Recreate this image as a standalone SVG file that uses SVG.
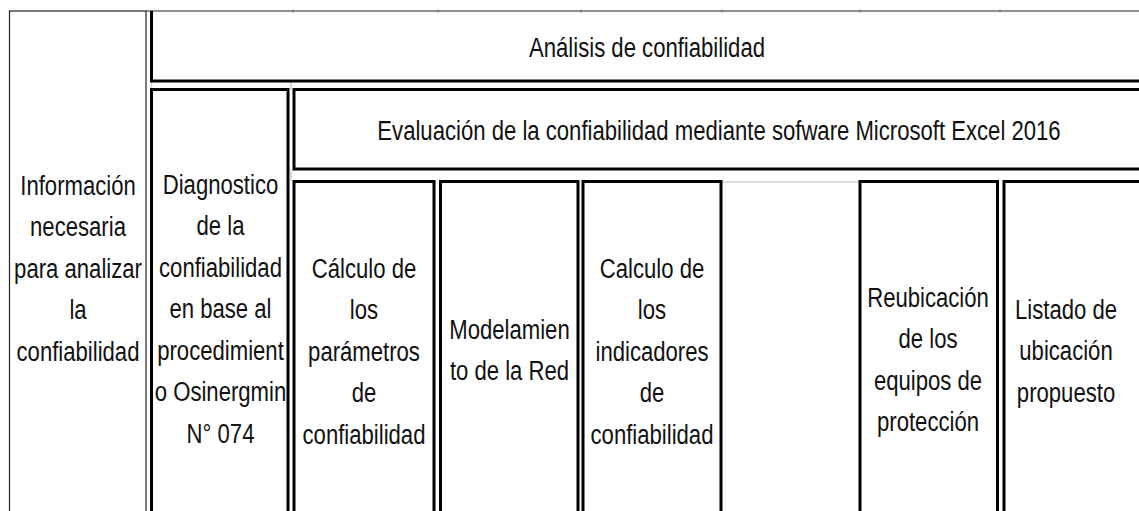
<svg xmlns="http://www.w3.org/2000/svg" width="1139" height="511" viewBox="0 0 1139 511">
<style>
.bg{fill:#fff}
.thin{fill:none;stroke:#222;stroke-width:1.2}
.thick{fill:none;stroke:#000;stroke-width:3}
.grid{fill:none;stroke:#cfcfcf;stroke-width:1.5}
.t{font-family:"Liberation Sans",Arial,sans-serif;font-size:28px;fill:#111;text-anchor:middle}
</style>
<rect class="bg" x="0" y="0" width="1139" height="511"/>
<g id="gridlines">
<path class="grid" d="M721,182 H860"/>
<path class="grid" d="M151.5,82 V89 M291,82 V90 M291,170 V181"/>
<path class="grid" d="M293,9 V13 M438,9 V13 M581,9 V13 M722,9 V13 M860,9 V13 M1000,9 V13"/>
</g>
<g id="connectors"></g>
<g id="informacion">
<rect class="thin" x="9.5" y="11" width="136.5" height="530"/>
<g transform="translate(78 0) scale(0.79 1)">
<text class="t" x="0" y="195">Información</text>
<text class="t" x="0" y="236.5">necesaria</text>
<text class="t" x="0" y="278">para analizar</text>
<text class="t" x="0" y="319.5">la</text>
<text class="t" x="0" y="361">confiabilidad</text>
</g>
</g>
<g id="analisis">
<path class="thin" d="M146,11 H1139"/>
<path class="thick" d="M151.5,11 V81 H1145"/>
<g transform="translate(647 0) scale(0.79 1)">
<text class="t" x="0" y="57">Análisis de confiabilidad</text>
</g>
</g>
<g id="diagnostico">
<rect class="thick" x="151.5" y="89.5" width="136.5" height="450"/>
<g transform="translate(220.5 0) scale(0.79 1)">
<text class="t" x="0" y="194">Diagnostico</text>
<text class="t" x="0" y="235.5">de la</text>
<text class="t" x="0" y="277">confiabilidad</text>
<text class="t" x="0" y="318.5">en base al</text>
<text class="t" x="0" y="360">procedimient</text>
<text class="t" x="0" y="401.5">o Osinergmin</text>
<text class="t" x="0" y="443">N° 074</text>
</g>
</g>
<g id="evaluacion">
<rect class="thick" x="294" y="89.5" width="900" height="79.5"/>
<g transform="translate(719 0) scale(0.79 1)">
<text class="t" x="0" y="140">Evaluación de la confiabilidad mediante sofware Microsoft Excel 2016</text>
</g>
</g>
<g id="calculo-parametros">
<rect class="thick" x="294" y="181.5" width="140" height="400"/>
<g transform="translate(364 0) scale(0.79 1)">
<text class="t" x="0" y="278">Cálculo de</text>
<text class="t" x="0" y="319.5">los</text>
<text class="t" x="0" y="361">parámetros</text>
<text class="t" x="0" y="402.5">de</text>
<text class="t" x="0" y="444">confiabilidad</text>
</g>
</g>
<g id="modelamiento">
<rect class="thick" x="440.5" y="181.5" width="137.5" height="400"/>
<g transform="translate(509.5 0) scale(0.79 1)">
<text class="t" x="0" y="339">Modelamien</text>
<text class="t" x="0" y="380.5">to de la Red</text>
</g>
</g>
<g id="calculo-indicadores">
<rect class="thick" x="583" y="181.5" width="138" height="400"/>
<g transform="translate(652 0) scale(0.79 1)">
<text class="t" x="0" y="278">Calculo de</text>
<text class="t" x="0" y="319.5">los</text>
<text class="t" x="0" y="361">indicadores</text>
<text class="t" x="0" y="402.5">de</text>
<text class="t" x="0" y="444">confiabilidad</text>
</g>
</g>
<g id="reubicacion">
<rect class="thick" x="860" y="181.5" width="137.5" height="400"/>
<g transform="translate(928 0) scale(0.79 1)">
<text class="t" x="0" y="307">Reubicación</text>
<text class="t" x="0" y="348.5">de los</text>
<text class="t" x="0" y="390">equipos de</text>
<text class="t" x="0" y="431.5">protección</text>
</g>
</g>
<g id="listado">
<rect class="thick" x="1004" y="181.5" width="200" height="400"/>
<g transform="translate(1066 0) scale(0.79 1)">
<text class="t" x="0" y="319">Listado de</text>
<text class="t" x="0" y="360.5">ubicación</text>
<text class="t" x="0" y="402">propuesto</text>
</g>
</g>
</svg>
